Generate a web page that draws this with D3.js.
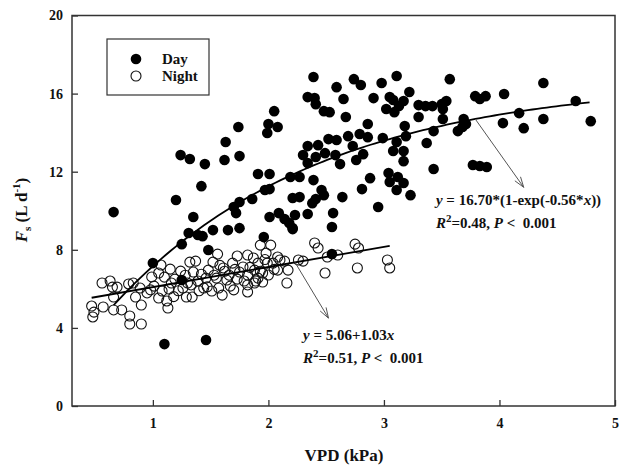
<!DOCTYPE html>
<html><head><meta charset="utf-8">
<script src="https://cdn.jsdelivr.net/npm/d3@7"></script>
<style>
body{margin:0;background:#fff}
text{font-family:"Liberation Serif","Times New Roman",serif;font-weight:bold;fill:#111;white-space:pre}
</style>
</head><body>
<svg id="chart" width="619" height="467"></svg>
<script>
// ---- data ----
const dayVPD = [0.66,1.10,1.46,1.00,1.25,1.31,1.39,1.43,1.48,1.52,1.65,1.75,1.96,2.21,1.24,1.32,1.20,1.42,1.45,1.62,
1.63,1.74,1.75,1.35,1.70,1.75,1.72,1.86,1.91,2.01,1.97,2.01,1.99,2.00,2.08,2.05,2.01,2.09,2.14,2.18,
2.23,2.21,2.19,2.27,2.21,2.27,2.34,2.39,2.34,2.43,2.30,2.34,2.41,2.49,2.39,2.34,2.40,2.41,2.38,2.41,
2.46,2.48,2.64,2.81,2.88,3.04,3.05,3.12,3.17,3.11,3.23,2.95,2.56,2.55,2.55,1.25,2.59,2.74,2.80,2.98,
3.11,2.65,2.91,3.05,3.08,3.22,3.17,3.13,3.02,3.09,2.48,2.53,3.30,3.36,3.42,3.50,3.54,3.51,3.57,3.79,
3.83,3.88,4.04,4.38,4.66,2.67,2.86,3.30,3.51,3.69,3.71,3.64,3.68,4.03,4.17,4.21,4.38,4.79,3.43,3.37,
3.18,3.19,2.52,2.59,2.69,2.79,2.86,2.99,3.11,2.58,2.62,2.73,2.76,2.82,3.08,3.17,3.17,3.43,3.77,3.83,3.89];
const dayFs = [9.93,3.17,3.38,7.32,8.29,8.86,8.76,8.70,7.99,9.01,9.01,9.11,8.65,9.06,12.85,12.65,10.55,11.26,12.39,12.60,
13.52,14.29,12.80,9.68,10.19,10.45,9.88,10.60,11.88,11.88,11.06,11.11,13.98,14.44,14.29,15.10,9.68,9.88,9.58,9.37,
9.78,9.11,11.73,11.73,10.65,10.70,9.83,11.57,13.31,13.36,12.85,12.44,12.75,12.95,16.85,15.82,15.77,15.46,10.39,10.60,
11.06,10.80,10.70,11.11,11.67,11.93,11.47,11.73,11.42,11.06,10.80,10.19,9.88,9.17,7.78,6.45,16.33,16.74,16.44,16.54,
16.90,15.72,15.77,15.82,15.67,16.08,15.62,15.36,15.21,15.05,15.10,15.05,15.41,15.36,15.36,15.46,15.62,15.21,16.74,15.87,
15.72,15.87,15.98,16.54,15.62,14.80,14.44,14.80,14.70,14.70,14.44,14.08,14.29,14.49,15.00,14.23,14.70,14.59,14.08,13.47,
14.34,13.82,13.67,13.62,13.82,13.93,13.77,13.72,13.52,12.85,12.39,13.31,12.60,12.90,13.06,13.06,12.54,12.14,12.34,12.29,12.24];

const nightVPD = [0.47,0.49,0.48,0.57,0.56,0.63,0.65,0.69,0.66,0.66,0.73,0.80,0.80,0.90,0.79,0.85,0.90,0.95,0.83,0.89,
0.99,1.01,1.05,1.07,1.05,1.08,1.12,1.13,1.14,1.15,1.19,1.24,1.26,1.29,1.34,1.32,1.37,1.35,1.39,1.44,
1.46,1.48,1.52,1.51,1.57,1.60,1.56,1.61,1.64,1.67,1.69,1.73,1.75,1.73,1.82,1.78,1.82,1.82,1.87,1.88,
1.89,1.93,1.98,2.02,1.99,2.04,1.91,2.00,2.08,2.10,2.14,2.17,2.08,1.95,1.91,2.16,1.82,1.88,1.95,2.26,
2.30,2.40,2.43,2.51,2.60,2.49,2.77,2.75,2.78,3.03,3.05,1.10,1.28,1.42,1.55,1.62,1.70,1.30,0.98,
1.16,1.22,1.33,1.47,1.53,1.58,1.66,1.71,1.79,1.84,1.93,1.97,2.05,1.40,1.18];
const nightFs = [5.12,4.81,4.56,5.07,6.30,6.40,6.09,6.09,5.58,4.92,4.92,4.61,4.20,4.20,6.25,5.58,5.17,5.79,6.30,6.04,
6.61,6.14,6.81,7.22,5.53,5.89,5.38,5.02,5.99,7.01,6.50,6.91,6.04,5.58,5.58,7.37,7.42,6.86,6.40,6.04,
6.55,6.96,7.37,5.89,6.04,5.68,7.78,7.07,6.45,6.14,7.32,7.68,6.86,6.50,7.73,7.12,6.71,5.84,7.58,6.96,
6.40,8.24,7.83,8.24,7.32,7.32,7.32,6.71,7.63,7.48,7.42,6.96,6.96,6.81,6.55,6.30,6.20,6.30,6.35,7.48,
7.42,8.35,8.09,7.63,7.73,6.81,7.07,8.29,8.09,7.48,7.07,6.60,6.70,6.75,6.55,6.90,5.95,6.30,5.95,
6.30,5.90,6.20,6.10,6.70,7.20,6.70,7.00,6.40,7.10,6.90,7.50,7.00,5.90,5.60];

const xTicks = [1,2,3,4,5];
const yTicks = [0,4,8,12,16,20];
const dayFitParams = [16.70, 0.56];       // y = a*(1-exp(-b*x))
const dayFitRange = [0.66, 4.78];
const nightFitParams = [5.06, 1.03];      // y = a + b*x
const nightFitRange = [0.47, 3.05];
const dayArrow = [[3.79, 14.70], [4.21, 11.2]];
const nightArrow = [[2.23, 7.36], [2.52, 4.5]];
const dayLabelPos = [3.45, 10.3];
const nightLabelPos = [2.30, 3.38];

// ---- layout ----
const svg = d3.select("#chart");
const L = 72, R = 615, T = 15.5, B = 406;
const x = d3.scaleLinear().domain([0.3, 5]).range([L, R]);
const y = d3.scaleLinear().domain([0, 20]).range([B, T]);

// axes
const gx = svg.append("g").attr("transform", `translate(0,${B})`)
  .call(d3.axisBottom(x).tickValues(xTicks).tickFormat(d3.format("d")).tickSizeInner(-6).tickSizeOuter(0).tickPadding(12));
const gy = svg.append("g").attr("transform", `translate(${L},0)`)
  .call(d3.axisLeft(y).tickValues(yTicks).tickFormat(d3.format("d")).tickSizeInner(-6).tickSizeOuter(0).tickPadding(9));
[gx, gy].forEach(g => {
  g.select(".domain").remove();
  g.selectAll(".tick line").attr("stroke", "#333").attr("stroke-width", 1.3);
  g.selectAll(".tick text").attr("font-size", 14).attr("font-family", null).attr("fill", "#111");
});
svg.append("rect").attr("x", L).attr("y", T).attr("width", R - L).attr("height", B - T)
  .attr("fill", "none").attr("stroke", "#333").attr("stroke-width", 1.5);

// points
svg.append("g").selectAll("circle").data(d3.range(nightVPD.length)).join("circle")
  .attr("cx", i => x(nightVPD[i])).attr("cy", i => y(nightFs[i])).attr("r", 5)
  .attr("fill", "none").attr("stroke", "#111").attr("stroke-width", 1.1);
svg.append("g").selectAll("circle").data(d3.range(dayVPD.length)).join("circle")
  .attr("cx", i => x(dayVPD[i])).attr("cy", i => y(dayFs[i])).attr("r", 5.3)
  .attr("fill", "#000");

// fitted lines
const line = d3.line().x(d => x(d[0])).y(d => y(d[1]));
const dayCurve = d3.range(0, 101).map(k => {
  const v = dayFitRange[0] + (dayFitRange[1] - dayFitRange[0]) * k / 100;
  return [v, dayFitParams[0] * (1 - Math.exp(-dayFitParams[1] * v))];
});
svg.append("path").attr("d", line(dayCurve)).attr("fill", "none").attr("stroke", "#000").attr("stroke-width", 1.8);
const nightLine = nightFitRange.map(v => [v, nightFitParams[0] + nightFitParams[1] * v]);
svg.append("path").attr("d", line(nightLine)).attr("fill", "none").attr("stroke", "#000").attr("stroke-width", 1.8);

// arrows
function arrow(a) {
  const x0 = x(a[0][0]), y0 = y(a[0][1]), x1 = x(a[1][0]), y1 = y(a[1][1]);
  const ang = Math.atan2(y1 - y0, x1 - x0), len = 11, spread = 0.32;
  const g = svg.append("g").attr("stroke", "#555").attr("stroke-width", 1).attr("fill", "none");
  g.append("line").attr("x1", x0).attr("y1", y0).attr("x2", x1).attr("y2", y1);
  g.append("path").attr("d",
    `M${x1 - len * Math.cos(ang - spread)},${y1 - len * Math.sin(ang - spread)}L${x1},${y1}L${x1 - len * Math.cos(ang + spread)},${y1 - len * Math.sin(ang + spread)}`);
}
arrow(dayArrow);
arrow(nightArrow);

// annotations
function eqText(pos, parts, dyLine) {
  const t = svg.append("text").attr("x", x(pos[0])).attr("y", y(pos[1]) + dyLine).attr("font-size", 15);
  parts.forEach(p => {
    const ts = t.append("tspan").text(p.t);
    if (p.i) ts.attr("font-style", "italic");
    if (p.sup) ts.attr("font-size", 11).attr("dy", -6);
    if (p.back) ts.attr("dy", 6);
  });
}
eqText(dayLabelPos, [{t:"y", i:1}, {t:" = 16.70*(1-exp(-0.56*"}, {t:"x", i:1}, {t:"))"}], 0);
eqText(dayLabelPos, [{t:"R", i:1}, {t:"2", sup:1}, {t:"=0.48, ", back:1}, {t:"P", i:1}, {t:" <\u00a0 0.001"}], 23);
eqText(nightLabelPos, [{t:"y", i:1}, {t:" = 5.06+1.03"}, {t:"x", i:1}], 0);
eqText(nightLabelPos, [{t:"R", i:1}, {t:"2", sup:1}, {t:"=0.51, ", back:1}, {t:"P", i:1}, {t:" <\u00a0 0.001"}], 23);

// legend
const lg = svg.append("g");
lg.append("rect").attr("x", 107).attr("y", 39).attr("width", 102).attr("height", 56)
  .attr("fill", "#fff").attr("stroke", "#333").attr("stroke-width", 1.2);
lg.append("circle").attr("cx", 136).attr("cy", 59).attr("r", 5.3).attr("fill", "#000");
lg.append("circle").attr("cx", 136).attr("cy", 76).attr("r", 5).attr("fill", "none").attr("stroke", "#111").attr("stroke-width", 1.1);
lg.append("text").attr("x", 162).attr("y", 64).attr("font-size", 15).text("Day");
lg.append("text").attr("x", 162).attr("y", 81).attr("font-size", 15).text("Night");

// axis titles
svg.append("text").attr("x", 344).attr("y", 461).attr("text-anchor", "middle").attr("font-size", 17).text("VPD (kPa)");
const yt = svg.append("text").attr("transform", "translate(27,210) rotate(-90)").attr("text-anchor", "middle").attr("font-size", 17);
yt.append("tspan").attr("font-style", "italic").text("F");
yt.append("tspan").attr("font-size", 11).attr("dy", 4).text("s");
yt.append("tspan").attr("dy", -4).text(" (L d");
yt.append("tspan").attr("font-size", 11).attr("dy", -7).text("-1");
yt.append("tspan").attr("dy", 7).text(")");
</script>
</body></html>
